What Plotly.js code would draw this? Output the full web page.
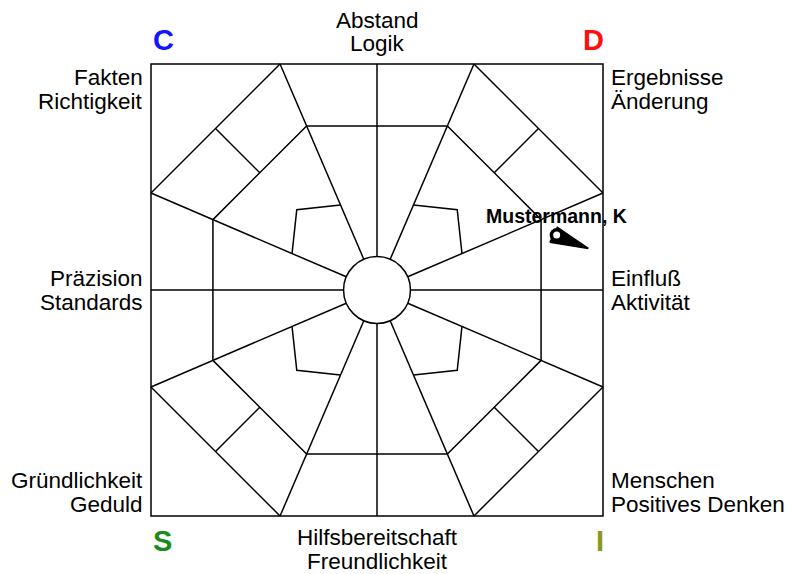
<!DOCTYPE html>
<html>
<head>
<meta charset="utf-8">
<script src="https://cdn.plot.ly/plotly-3.0.1.min.js"></script>
<style>html,body{margin:0;padding:0;background:#fff;}#chart{width:793px;height:574px;}</style>
</head>
<body>
<div id="chart"></div>
<script>
// ---- data ----
const personNames = ["Mustermann, K"];
const personX = [0.795];   // Einfluß / Aktivität direction (D–I axis)
const personY = [0.243];   // Abstand / Logik direction (C–D axis)

const cornerLetters = ["C", "D", "S", "I"];
const cornerColors = ["#1414ff", "#ff1010", "#1a8c1a", "#8a981a"];

const topLabels = ["Abstand", "Logik"];
const bottomLabels = ["Hilfsbereitschaft", "Freundlichkeit"];
const leftLabels = [["Fakten", "Richtigkeit"], ["Präzision", "Standards"], ["Gründlichkeit", "Geduld"]];
const rightLabels = [["Ergebnisse", "Änderung"], ["Einfluß", "Aktivität"], ["Menschen", "Positives Denken"]];

// ---- geometry of the grid (chart frame, unit square half-size 1) ----
const T = 0.429;   // where slanted rays meet the frame
const K = 0.726;   // inner octagon fraction
const RC = 0.148;  // centre circle radius
const F = 0.376;   // bracket fraction along ray
const CB = 0.355;  // bracket corner

const rayEnds = [[0,1],[T,1],[1,T],[1,0],[1,-T],[T,-1],[0,-1],[-T,-1],[-1,-T],[-1,0],[-1,T],[-T,1]];
const diag = [[T,1],[1,T],[1,-T],[T,-1],[-T,-1],[-1,-T],[-1,T],[-T,1]];

let lx = [], ly = [];
function seg(pts){ pts.forEach(p=>{lx.push(p[0]); ly.push(p[1]);}); lx.push(null); ly.push(null); }

rayEnds.forEach(e=>{
  const L = Math.hypot(e[0], e[1]);
  seg([[e[0]*RC/L, e[1]*RC/L], e]);
});
// inner octagon
seg(diag.concat([diag[0]]).map(p=>[p[0]*K, p[1]*K]));
// outer corner lines and dividers
[[0,1],[2,3],[4,5],[6,7]].forEach(([a,b])=>{
  const A = diag[a], B = diag[b];
  seg([A, B]);
  const m = [(A[0]+B[0])/2, (A[1]+B[1])/2];
  seg([m, [m[0]*K, m[1]*K]]);
});
// small brackets
[[1,1],[1,-1],[-1,-1],[-1,1]].forEach(([sx,sy])=>{
  seg([[sx*T*F, sy*F], [sx*CB, sy*CB], [sx*F, sy*T*F]]);
});

// marker shape around each person point
const tri = [[-0.030,-0.032],[0.003,0.034],[0.140,-0.059]];
const triX = [], triY = [];
personX.forEach((x,i)=>{
  tri.forEach(p=>{triX.push(x+p[0]); triY.push(personY[i]+p[1]);});
  triX.push(x+tri[0][0]); triY.push(personY[i]+tri[0][1]);
  triX.push(null); triY.push(null);
});

const traces = [
  {x: lx, y: ly, mode: 'lines', line: {color: '#000', width: 1.5}, hoverinfo: 'skip', cliponaxis: false},
  {x: triX, y: triY, mode: 'lines', fill: 'toself', fillcolor: '#000', line: {color: '#000', width: 1.5}, hoverinfo: 'skip', cliponaxis: false},
  {x: personX, y: personY, mode: 'markers', marker: {color: '#000', size: 14, line: {width: 0}}, hoverinfo: 'skip', cliponaxis: false},
  {x: personX, y: personY, mode: 'markers', marker: {color: '#fff', size: 7, line: {width: 0}}, hoverinfo: 'skip', cliponaxis: false}
];

// ---- text ----
const FONT = 'Liberation Sans, Arial, sans-serif';
const fs = 22.5, lh = 24;
const ML = 147, MB = 54, PW = 460, PH = 460, H = 574;
const px2p = px => (px - ML) / PW;
const py2p = py => (H - MB - py) / PH;
const ann = [];
function txt(t, px, py, xanchor, opts){
  ann.push(Object.assign({text: t, x: px2p(px), y: py2p(py), xref: 'paper', yref: 'paper', xanchor: xanchor, yanchor: 'middle', showarrow: false, font: {family: FONT, size: fs, color: '#000'}}, opts||{}));
}
topLabels.forEach((t,i)=>txt(t, 377, 20 + i*lh, 'center'));
bottomLabels.forEach((t,i)=>txt(t, 377, 537 + i*lh, 'center'));
const rowY = [77, 278, 480];
leftLabels.forEach((pair,r)=>pair.forEach((t,i)=>txt(t, 145, rowY[r] + i*lh, 'right')));
rightLabels.forEach((pair,r)=>pair.forEach((t,i)=>txt(t, 609, rowY[r] + i*lh, 'left')));
const cornerPos = [[151,40,'left'],[606,40,'right'],[151,541,'left'],[606,541,'right']];
cornerLetters.forEach((c,i)=>txt('<b>'+c+'</b>', cornerPos[i][0], cornerPos[i][1], cornerPos[i][2], {font:{family: FONT, size: 29, color: cornerColors[i]}}));
personNames.forEach((n,i)=>ann.push({text: '<b>'+n+'</b>', x: personX[i], y: personY[i], xref:'x', yref:'y', xanchor:'center', yanchor:'middle', yshift: 19, showarrow:false, font:{family: FONT, size: 19.5, color:'#000'}}));

const R = 460/452;
const layout = {
  width: 793, height: 574,
  margin: {l: ML, r: 793 - ML - PW, t: H - MB - PH, b: MB, pad: 0},
  paper_bgcolor: '#fff', plot_bgcolor: '#fff',
  showlegend: false,
  xaxis: {range: [-R, R], visible: false, fixedrange: true},
  yaxis: {range: [-R, R], visible: false, fixedrange: true},
  shapes: [
    {type: 'rect', xref: 'x', yref: 'y', x0: -1, x1: 1, y0: -1, y1: 1, line: {color: '#000', width: 1.5}, layer: 'below'},
    {type: 'circle', xref: 'x', yref: 'y', x0: -RC, x1: RC, y0: -RC, y1: RC, line: {color: '#000', width: 1.5}, fillcolor: '#fff', layer: 'above'}
  ],
  annotations: ann
};
Plotly.newPlot('chart', traces, layout, {displayModeBar: false, staticPlot: true});
</script>
</body>
</html>
